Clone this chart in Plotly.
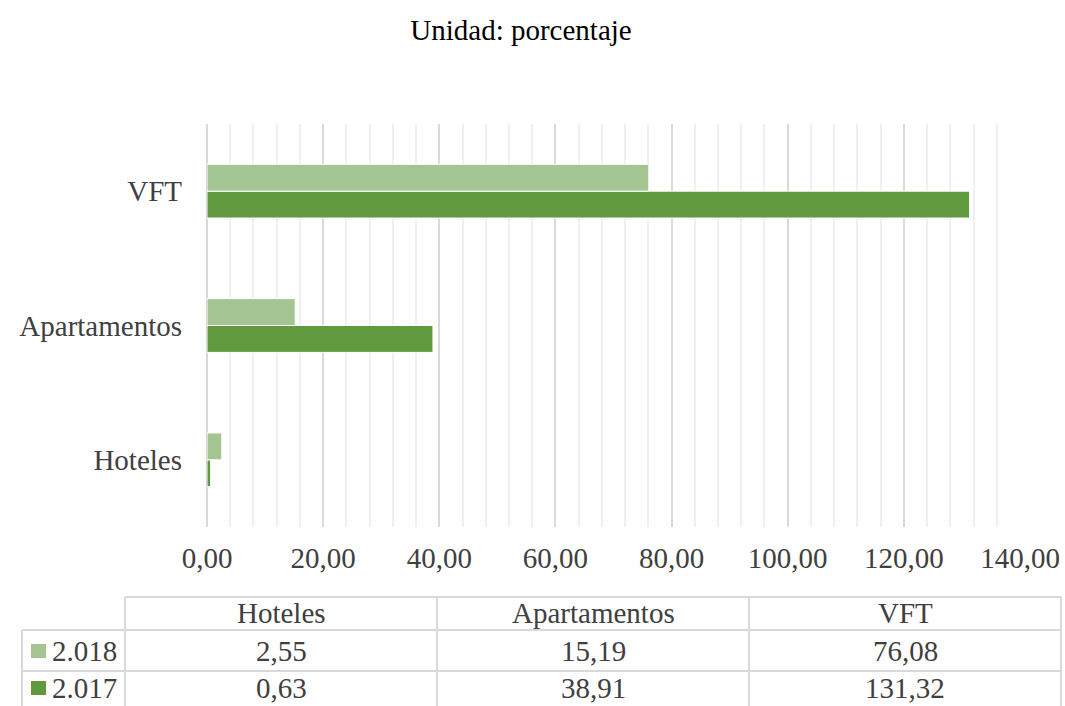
import plotly.graph_objects as go

# Data
categories = ["Hoteles", "Apartamentos", "VFT"]
series_names = ["2.018", "2.017"]
values_2018 = [2.55, 15.19, 76.08]
values_2017 = [0.63, 38.91, 131.32]
x_ticks = [0, 20, 40, 60, 80, 100, 120, 140]

title_text = "Unidad: porcentaje"

W, H = 1065, 706
FONT = "Liberation Serif"
FS = 29
TXT = "#404040"
COL_LIGHT = "#a4c591"
COL_DARK = "#619a3e"
GRID = "#d9d9d9"
GRID_MINOR = "#f0f0f0"


def px(x):
    return x / W


def py(y):
    return 1 - y / H


fig = go.Figure()
# First trace sits lower inside each group
fig.add_trace(go.Bar(
    y=categories, x=values_2017, orientation="h", name=series_names[1],
    marker=dict(color=COL_DARK, line=dict(color="white", width=1)),
    hoverinfo="skip",
))
fig.add_trace(go.Bar(
    y=categories, x=values_2018, orientation="h", name=series_names[0],
    marker=dict(color=COL_LIGHT, line=dict(color="white", width=1)),
    hoverinfo="skip",
))

fig.update_layout(
    width=W, height=H,
    margin=dict(l=0, r=0, t=0, b=0, autoexpand=False),
    paper_bgcolor="white", plot_bgcolor="white",
    showlegend=False,
    barmode="group", bargap=0.6, bargroupgap=0,
    separators=",.",
    font=dict(family=FONT, size=FS, color=TXT),
    title=dict(text=title_text, x=px(521), xanchor="center", y=py(30), yanchor="middle",
               automargin=False,
               font=dict(family=FONT, size=FS, color="#000000")),
    xaxis=dict(
        domain=[px(207), px(1020)], range=[0, 140],
        tickvals=x_ticks, tickformat=".2f",
        showgrid=True, gridcolor=GRID, gridwidth=2,
        zeroline=True, zerolinecolor=GRID, zerolinewidth=2,
        showline=False, ticks="", ticklabelstandoff=11,
        minor=dict(dtick=4, showgrid=True, gridcolor=GRID_MINOR, gridwidth=2, ticks=""),
        tickfont=dict(family=FONT, size=FS, color=TXT),
        automargin=False, fixedrange=True,
    ),
    yaxis=dict(
        domain=[py(527), py(124)],
        categoryorder="array", categoryarray=categories,
        showgrid=False, showline=False, ticks="", ticklabelstandoff=24,
        tickfont=dict(family=FONT, size=FS, color=TXT),
        automargin=False, fixedrange=True,
    ),
)

# Data table below the chart
col_edges = [125, 437, 749, 1061]
legend_left = 22
row_edges = [597, 630, 671, 712]
line_style = dict(color=GRID, width=2)

shapes = []
shapes.append(dict(type="line", xref="paper", yref="paper",
                   x0=px(col_edges[0]), x1=px(col_edges[-1]),
                   y0=py(row_edges[0]), y1=py(row_edges[0]), line=line_style))
for ry in row_edges[1:3]:
    shapes.append(dict(type="line", xref="paper", yref="paper",
                       x0=px(legend_left), x1=px(col_edges[-1]),
                       y0=py(ry), y1=py(ry), line=line_style))
shapes.append(dict(type="line", xref="paper", yref="paper",
                   x0=px(legend_left), x1=px(legend_left),
                   y0=py(row_edges[1]), y1=py(row_edges[-1]), line=line_style))
for cx in col_edges:
    shapes.append(dict(type="line", xref="paper", yref="paper",
                       x0=px(cx), x1=px(cx),
                       y0=py(row_edges[0]), y1=py(row_edges[-1]), line=line_style))

annotations = []


def fmt(v):
    return f"{v:.2f}".replace(".", ",")


def add_text(text, x, y, anchor="center"):
    annotations.append(dict(text=text, xref="paper", yref="paper",
                            x=px(x), y=py(y), xanchor=anchor, yanchor="middle",
                            showarrow=False,
                            font=dict(family=FONT, size=FS, color=TXT)))


# Text rows: header, 2.018, 2.017 (last row sits a little higher so it stays on the page)
row_centers = [613, 651, 688]
for i, cat in enumerate(categories):
    cx = (col_edges[i] + col_edges[i + 1]) / 2
    add_text(cat, cx, row_centers[0])
    add_text(fmt(values_2018[i]), cx, row_centers[1])
    add_text(fmt(values_2017[i]), cx, row_centers[2])

# Legend keys in the table
for name, color, rc in [(series_names[0], COL_LIGHT, row_centers[1]),
                        (series_names[1], COL_DARK, row_centers[2])]:
    shapes.append(dict(type="rect", xref="paper", yref="paper",
                       x0=px(31), x1=px(46), y0=py(rc + 7), y1=py(rc - 7),
                       fillcolor=color, line=dict(width=0)))
    add_text(name, 50, rc, anchor="left")

fig.update_layout(shapes=shapes, annotations=annotations)

fig.write_html("out.html", config={"displayModeBar": False})
